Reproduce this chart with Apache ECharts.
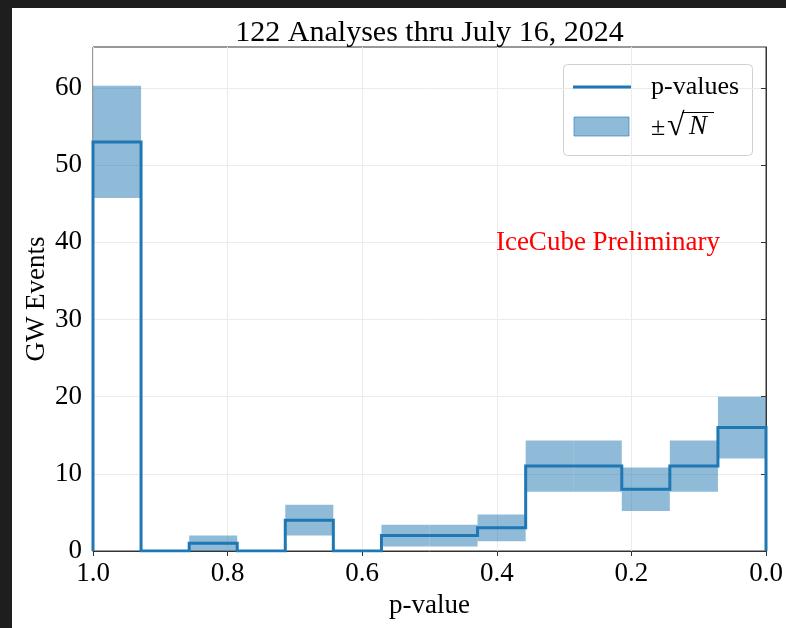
<!DOCTYPE html>
<html>
<head>
<meta charset="utf-8">
<script src="https://cdn.jsdelivr.net/npm/echarts@6/dist/echarts.min.js"></script>
<style>
  html, body { margin: 0; padding: 0; background: #ffffff; }
  #chart { width: 786px; height: 628px; }
</style>
</head>
<body>
<div id="chart"></div>
<script>
// Histogram bin edges (p-value), ascending
const binEdges = [0.0, 0.0714, 0.1429, 0.2143, 0.2857, 0.3571, 0.4286, 0.5,
                  0.5714, 0.6429, 0.7143, 0.7857, 0.8571, 0.9286, 1.0];
// GW event counts per bin (same order as binEdges)
const binCounts = [16, 11, 8, 11, 11, 3, 2, 2, 0, 4, 0, 1, 0, 53];
// Axis ticks
const xTicks = [0.0, 0.2, 0.4, 0.6, 0.8, 1.0];
const yTicks = [0, 10, 20, 30, 40, 50, 60];

const titleText = '122 Analyses thru July 16, 2024';
const serif = '"Liberation Serif", "DejaVu Serif", serif';
const C0 = '#1f77b4';
const C0band = 'rgba(31,119,180,0.5)';

// Plot area
const G = { left: 93, right: 20, top: 47, bottom: 77 };
const plotCenterX = G.left + (786 - G.left - G.right) / 2;

// Step outline of the histogram (closed down to zero at both ends)
const stepPoints = [[binEdges[0], 0]];
for (let i = 0; i < binCounts.length; i++) {
  stepPoints.push([binEdges[i], binCounts[i]]);
  stepPoints.push([binEdges[i + 1], binCounts[i]]);
}
stepPoints.push([binEdges[binEdges.length - 1], 0]);

// ±sqrt(N) band per bin
const bandData = [];
for (let i = 0; i < binCounts.length; i++) {
  const n = binCounts[i];
  if (n <= 0) continue;
  const s = Math.sqrt(n);
  bandData.push([binEdges[i], binEdges[i + 1], n - s, n + s]);
}

const chart = echarts.init(document.getElementById('chart'));

const option = {
  backgroundColor: '#ffffff',
  animation: false,
  grid: {
    left: G.left, right: G.right, top: G.top, bottom: G.bottom,
    show: true, borderColor: '#333', borderWidth: 1
  },
  xAxis: {
    type: 'value',
    inverse: true,
    min: 0, max: 1, interval: 0.2,
    name: 'p-value',
    nameLocation: 'middle',
    nameGap: 41,
    nameMoveOverlap: false,
    nameTextStyle: { fontFamily: serif, fontSize: 27, color: '#000' },
    axisLine: { show: true, lineStyle: { color: '#333', width: 1 } },
    axisTick: { show: true, inside: false, length: 5, lineStyle: { color: '#333' } },
    axisLabel: {
      margin: 9,
      fontFamily: serif, fontSize: 27, color: '#000',
      formatter: v => v.toFixed(1)
    },
    splitLine: { show: true, lineStyle: { color: '#ebebeb', width: 1 } }
  },
  yAxis: {
    type: 'value',
    min: 0, max: 65.3, interval: 10,
    name: 'GW Events',
    nameLocation: 'middle',
    nameGap: 43,
    nameMoveOverlap: false,
    nameTextStyle: { fontFamily: serif, fontSize: 27, color: '#000' },
    axisLine: { show: true, lineStyle: { color: '#333', width: 1 } },
    axisTick: { show: true, inside: false, length: 5, lineStyle: { color: '#333' }, customValues: yTicks },
    axisLabel: {
      margin: 11,
      fontFamily: serif, fontSize: 27, color: '#000',
      customValues: yTicks,
      formatter: v => String(v)
    },
    splitLine: { show: true, lineStyle: { color: '#ebebeb', width: 1 } }
  },
  series: [
    {
      name: '±√N',
      type: 'custom',
      z: 2,
      data: bandData,
      renderItem: function (params, api) {
        const p0 = api.coord([api.value(0), api.value(3)]);
        const p1 = api.coord([api.value(1), api.value(2)]);
        const x = Math.min(p0[0], p1[0]);
        const y = Math.min(p0[1], p1[1]);
        return {
          type: 'rect',
          shape: { x: x, y: y, width: Math.abs(p1[0] - p0[0]), height: Math.abs(p1[1] - p0[1]) },
          style: { fill: C0band }
        };
      },
      encode: { x: [0, 1], y: [2, 3] }
    },
    {
      name: 'p-values',
      type: 'line',
      z: 3,
      data: stepPoints,
      symbol: 'none',
      lineStyle: { color: C0, width: 3, join: 'miter' }
    }
  ],
  graphic: [
    // dark frame strips
    { type: 'rect', left: 0, top: 0, shape: { width: 786, height: 8 }, style: { fill: '#1e1e1e' }, z: 100 },
    { type: 'rect', left: 0, top: 0, shape: { width: 12, height: 628 }, style: { fill: '#1e1e1e' }, z: 100 },
    // title, centred over the plot area
    {
      type: 'text', x: plotCenterX, y: 33, z: 50,
      style: {
        text: titleText, fill: '#000',
        font: '30px ' + serif, align: 'center', verticalAlign: 'middle'
      }
    },
    // watermark text
    {
      type: 'text', x: 608, y: 243, z: 50,
      style: {
        text: 'IceCube Preliminary', fill: '#ff0000',
        font: '27px ' + serif, align: 'center', verticalAlign: 'middle'
      }
    },
    // legend
    {
      type: 'group', z: 60,
      children: [
        { type: 'rect', z2: 0, shape: { x: 563.5, y: 64.5, width: 189, height: 91, r: 4 },
          style: { fill: 'rgba(255,255,255,0.85)', stroke: '#d0d0d0', lineWidth: 1 } },
        { type: 'line', z2: 1, shape: { x1: 573, y1: 87, x2: 631, y2: 87 },
          style: { stroke: C0, lineWidth: 3 } },
        { type: 'rect', z2: 1, shape: { x: 574, y: 117, width: 55, height: 19 },
          style: { fill: C0band, stroke: 'rgba(31,119,180,0.6)', lineWidth: 1 } },
        { type: 'text', z2: 2, x: 651, y: 87,
          style: { text: 'p-values', font: '26px ' + serif, fill: '#000', verticalAlign: 'middle' } },
        // ±√N label
        { type: 'text', z2: 2, x: 651, y: 128,
          style: { text: '±', font: '26px ' + serif, fill: '#000', verticalAlign: 'middle' } },
        { type: 'text', z2: 2, x: 667, y: 127,
          style: { text: '√', font: '32px ' + serif, fill: '#000', verticalAlign: 'middle' } },
        { type: 'text', z2: 2, x: 689, y: 127,
          style: { text: 'N', font: 'italic 27px ' + serif, fill: '#000', verticalAlign: 'middle' } },
        // radical vinculum over N
        { type: 'line', z2: 2, shape: { x1: 682, y1: 112.5, x2: 714, y2: 112.5 },
          style: { stroke: '#000', lineWidth: 1 } }
      ]
    }
  ]
};

chart.setOption(option);
</script>
</body>
</html>
